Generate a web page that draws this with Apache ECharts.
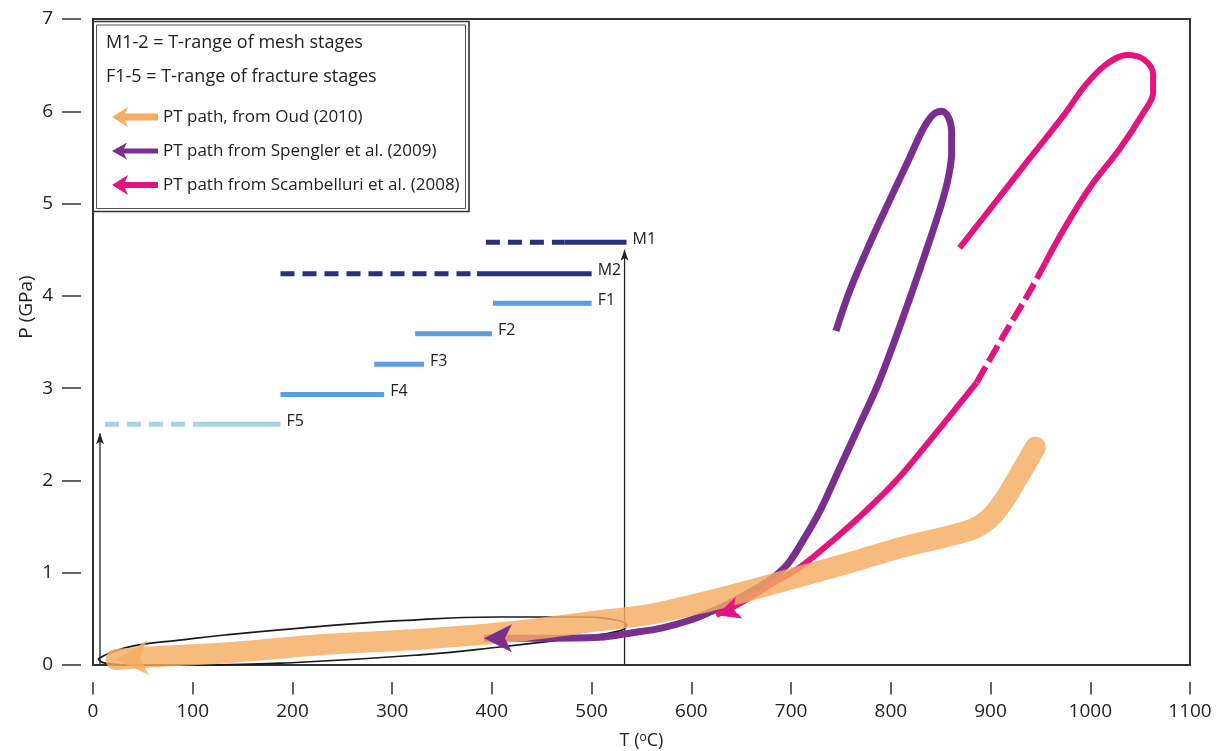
<!DOCTYPE html>
<html>
<head>
<meta charset="utf-8">
<script src="https://cdn.jsdelivr.net/npm/echarts@6/dist/echarts.min.js"></script>
<style>
html,body{margin:0;padding:0;background:#ffffff;}
#chart{width:1223px;height:751px;}
</style>
</head>
<body>
<div id="chart"></div>
<script>
// ---------------- DATA ----------------
// axis ranges / ticks
const T_RANGE = [0, 1100];  const T_STEP = 100;
const P_RANGE = [0, 7];     const P_STEP = 1;

// PT paths, [T (°C), P (GPa)], in drawing order (arrow at the last point)
const oudPath = [[945,2.36],[929,2.06],[914,1.79],[899,1.59],[879,1.46],[809,1.27],[759,1.11],[709,0.96],[659,0.81],[609,0.67],[559,0.55],[508,0.48],[428,0.37],[328,0.28],[228,0.22],[132,0.13],[60,0.09],[23,0.06]];
const spenglerPath = [[745,3.62],[759,4.06],[779,4.57],[799,5.04],[819,5.50],[832,5.80],[842,5.96],[851,6.00],[858,5.93],[861,5.76],[861,5.55],[858,5.30],[852,5.04],[839,4.60],[816,3.88],[789,3.09],[769,2.61],[749,2.14],[729,1.67],[712,1.35],[697,1.10],[680,0.93],[660,0.80],[640,0.68],[620,0.58],[600,0.49],[570,0.40],[541,0.35],[508,0.30],[450,0.29],[392,0.29]];
const scambUpper = [[869,4.52],[906,5.03],[940,5.50],[973,5.95],[995,6.28],[1015,6.50],[1037,6.61],[1054,6.56],[1063,6.40],[1063,6.20],[1053,5.98],[1030,5.60],[1000,5.18],[975,4.75],[955,4.36]];
const scambDashed = [[955,4.36],[940,4.06],[912,3.55],[886,3.06]];
const scambLower = [[886,3.06],[842,2.47],[809,2.04],[776,1.68],[742,1.35],[709,1.06],[676,0.85],[649,0.67],[625,0.54]];

// ellipse around the low-P part of the paths
const ellipseOutline = [[5,0.065],[17,0.13],[42,0.21],[87,0.27],[132,0.325],[208,0.40],[308,0.48],[408,0.52],[488,0.52],[523,0.49],[535,0.43],[528,0.37],[488,0.30],[408,0.195],[328,0.11],[208,0.03],[107,0.0],[37,0.0],[12,0.02],[5,0.065]];

// vertical black arrows
const arrowMesh = [[533,0],[533,4.50]];
const arrowFracture = [[7,0],[7,2.51]];

// mesh (M) and fracture (F) stage T-ranges
const stageNames     = ['M1','M2','F1','F2','F3','F4','F5'];
const stageP         = [4.58, 4.24, 3.92, 3.59, 3.26, 2.93, 2.61];
const stageDashFrom  = [394, 188, null, null, null, null, 12];
const stageSolidFrom = [473, 385, 401, 323, 282, 188, 103];
const stageSolidTo   = [535, 500, 500, 400, 332, 292, 188];

// legend texts
const legendNotes = ['M1-2 = T-range of mesh stages', 'F1-5 = T-range of fracture stages'];
const pathNames = ['PT path, from Oud (2010)', 'PT path from Spengler et al. (2009)', 'PT path from Scambelluri et al. (2008)'];

// ---------------- STYLE ----------------
const FONT = '"Open Sans", "Noto Sans", sans-serif';
const C_ORANGE = '#f5ac60';
const C_PURPLE = '#7a2f8f';
const C_PINK = '#e3137f';
const C_NAVY = '#2c2f7c';
const C_BLUE = '#5b9de2';
const C_LIGHT = '#a9d3e0';
const stageColor = n => n.startsWith('M') ? C_NAVY : (n === 'F5' ? C_LIGHT : C_BLUE);

function withArrow(data, size, rot, color, opacity) {
  return data.map((d, i) => i === data.length - 1
    ? {value: d, symbol: 'arrow', symbolSize: size, symbolRotate: rot, itemStyle: {color: color, opacity: opacity}}
    : d);
}

const series = [];

// ellipse
series.push({
  type: 'line', name: 'ellipse', data: ellipseOutline, smooth: 0.5, symbol: 'none', clip: false,
  lineStyle: {color: '#1a1a1a', width: 1.7}, silent: true
});
// black arrows
[arrowMesh, arrowFracture].forEach((a, k) => series.push({
  type: 'line', name: 'arrow' + k, data: withArrow(a, [6, 11], 0, '#222', 1),
  symbol: 'none', showSymbol: true, clip: false,
  lineStyle: {color: '#222', width: 1.3}, silent: true
}));

// stage bars
stageNames.forEach((n, i) => {
  const col = stageColor(n);
  if (stageDashFrom[i] !== null) {
    series.push({
      type: 'line', name: n + ' dashed', symbol: 'none', silent: true,
      data: [[stageDashFrom[i], stageP[i]], [stageSolidFrom[i], stageP[i]]],
      lineStyle: {color: col, width: 5, type: [14, 8]}
    });
  }
  series.push({
    type: 'line', name: n, symbol: 'none', silent: true,
    data: [[stageSolidFrom[i], stageP[i]], [stageSolidTo[i], stageP[i]]],
    lineStyle: {color: col, width: 5},
    endLabel: {show: true, formatter: n, distance: 6, offset: [0, -3], fontSize: 16, color: '#222', fontFamily: FONT}
  });
});

// purple path
series.push({
  type: 'line', name: pathNames[1], data: withArrow(spenglerPath, [21, 28], 90, C_PURPLE, 1),
  smooth: 0.35, symbol: 'none', showSymbol: true, clip: false,
  itemStyle: {color: C_PURPLE}, lineStyle: {color: C_PURPLE, width: 7}
});
// pink path
series.push({
  type: 'line', name: pathNames[2], data: scambUpper, smooth: 0.35, symbol: 'none', clip: false,
  itemStyle: {color: C_PINK}, lineStyle: {color: C_PINK, width: 6}
});
series.push({
  type: 'line', name: pathNames[2], data: scambDashed, smooth: 0.2, symbol: 'none', clip: false,
  itemStyle: {color: C_PINK}, lineStyle: {color: C_PINK, width: 6, type: [18, 6]}
});
series.push({
  type: 'line', name: pathNames[2], data: withArrow(scambLower, [17, 24], 108, C_PINK, 1),
  smooth: 0.3, symbol: 'none', showSymbol: true, clip: false,
  itemStyle: {color: C_PINK}, lineStyle: {color: C_PINK, width: 6}
});
// orange path (on top of the others, semi-transparent)
series.push({
  type: 'line', name: pathNames[0], z: 3, data: withArrow(oudPath, [26, 32], 93, C_ORANGE, 0.82),
  smooth: 0.3, symbol: 'none', showSymbol: true, clip: false,
  itemStyle: {color: C_ORANGE}, lineStyle: {color: C_ORANGE, width: 21, opacity: 0.82, cap: 'round'}
});

const legendIcons = [
  'path://M0,10 L16,0 L13,6.5 L46,6.5 L46,13.5 L13,13.5 L16,20 Z',
  'path://M0,10 L15,1.5 L12,7.5 L46,7.5 L46,12.5 L12,12.5 L15,18.5 Z',
  'path://M0,10 L16,0 L13,7 L46,7 L46,13 L13,13 L16,20 Z'
];
const legendColors = [C_ORANGE, C_PURPLE, C_PINK];

const hidden = {axisLine: {show: false}, axisTick: {show: false}, axisLabel: {show: false}, splitLine: {show: false}};
const tickLine = {show: true, lineStyle: {color: '#333', width: 1.5, type: 'solid'}};

const option = {
  animation: false,
  backgroundColor: '#ffffff',
  grid: [
    // main plot frame
    {left: 93, right: 33, top: 19, bottom: 86, show: true, borderColor: '#333', borderWidth: 2, backgroundColor: 'transparent'},
    // strip below the frame holding the T ticks
    {left: 93, right: 33, top: 682, bottom: 55, show: false},
    // strip left of the frame holding the P ticks
    {left: 62, width: 19, top: 19, bottom: 86, show: false}
  ],
  xAxis: [
    Object.assign({type: 'value', gridIndex: 0, min: T_RANGE[0], max: T_RANGE[1], interval: T_STEP}, hidden),
    {
      type: 'value', gridIndex: 1, min: T_RANGE[0], max: T_RANGE[1], interval: T_STEP,
      axisLine: {show: false}, axisTick: {show: false}, splitLine: tickLine,
      axisLabel: {margin: 8, fontSize: 19, color: '#222', fontFamily: FONT, formatter: v => String(v)},
      name: 'T ({sup|o}C)', nameLocation: 'middle', nameGap: 37,
      nameTextStyle: {fontSize: 18, color: '#222', fontFamily: FONT,
        rich: {sup: {fontSize: 12, color: '#222', fontFamily: FONT, verticalAlign: 'top', padding: [0, 0, 7, 0]}}}
    },
    Object.assign({type: 'value', gridIndex: 2, min: 0, max: 1}, hidden)
  ],
  yAxis: [
    Object.assign({type: 'value', gridIndex: 0, min: P_RANGE[0], max: P_RANGE[1], interval: P_STEP}, hidden),
    Object.assign({type: 'value', gridIndex: 1, min: 0, max: 1}, hidden),
    {
      type: 'value', gridIndex: 2, min: P_RANGE[0], max: P_RANGE[1], interval: P_STEP,
      axisLine: {show: false}, axisTick: {show: false}, splitLine: tickLine,
      axisLabel: {margin: 9, fontSize: 19, color: '#222', fontFamily: FONT}
    }
  ],
  legend: {
    orient: 'vertical', left: 107, top: 102, itemWidth: 46, itemHeight: 20, itemGap: 15.5,
    selectedMode: false,
    textStyle: {fontSize: 17, color: '#222', fontFamily: FONT},
    data: pathNames.map((n, i) => ({name: n, icon: legendIcons[i], itemStyle: {color: legendColors[i], opacity: 1}}))
  },
  graphic: [
    {type: 'rect', z: 1, shape: {x: 93, y: 21.5, width: 376, height: 190}, style: {fill: 'none', stroke: '#333', lineWidth: 1.6}},
    {type: 'rect', z: 1, shape: {x: 96.5, y: 25, width: 369, height: 183.5}, style: {fill: 'none', stroke: '#555', lineWidth: 1}},
    {type: 'text', z: 5, x: 106, y: 43, style: {text: legendNotes[0], font: '18px ' + FONT, fill: '#222', verticalAlign: 'middle'}},
    {type: 'text', z: 5, x: 106, y: 77, style: {text: legendNotes[1], font: '18px ' + FONT, fill: '#222', verticalAlign: 'middle'}},
    {type: 'text', z: 5, x: 27, y: 307, rotation: Math.PI / 2, style: {text: 'P (GPa)', font: '19px ' + FONT, fill: '#222', align: 'center', verticalAlign: 'middle'}}
  ],
  series: series
};

const chart = echarts.init(document.getElementById('chart'), null, {renderer: 'canvas'});
chart.setOption(option);
</script>
</body>
</html>
